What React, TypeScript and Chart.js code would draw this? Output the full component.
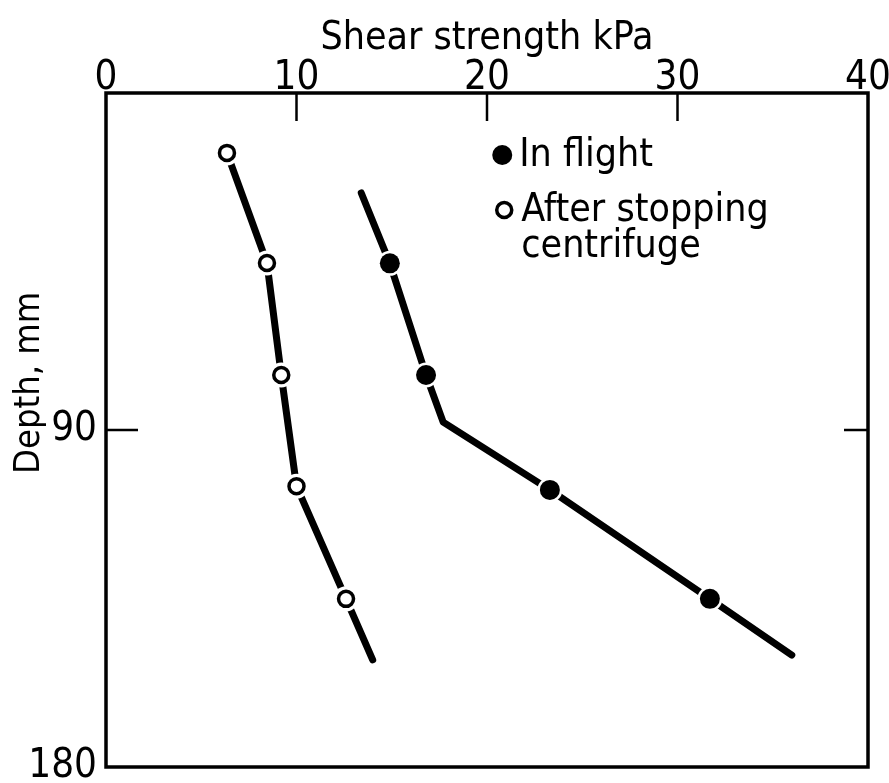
import React, { useEffect, useRef } from "react";
import { Chart, registerables } from "chart.js";
Chart.register(...registerables);

// Tick labels
const xTickValues = [0, 10, 20, 30, 40];
const yTickValues = [90, 180];
const innerXTicks = [10, 20, 30];
const innerYTicks = [90];

// In flight (filled markers) measured points
const inFlightStrength = [14.9, 16.8, 23.3, 31.7];
const inFlightDepth = [45.5, 75.3, 106, 135.1];
// In flight fitted line
const inFlightLineStrength = [13.4, 14.9, 16.8, 17.7, 23.3, 31.7, 36.0];
const inFlightLineDepth = [26.7, 45.5, 75.3, 87.9, 106, 135.1, 150.1];

// After stopping centrifuge (open markers)
const afterStrength = [6.35, 8.45, 9.2, 10.0, 12.6];
const afterDepth = [16.0, 45.4, 75.3, 105, 135.1];
// After stopping fitted line
const afterLineStrength = [6.35, 8.45, 9.2, 10.0, 12.6, 14.0];
const afterLineDepth = [16.0, 45.4, 75.3, 105, 135.1, 151.4];

const legendLabels = ["In flight", ["After stopping", "centrifuge"]];
const xTitle = "Shear strength kPa";
const yTitle = "Depth, mm";

const FONT = "'DejaVu Sans Condensed', 'DejaVu Sans', sans-serif";

const zip = (xs: number[], ys: number[]) => xs.map((x, i) => ({ x, y: ys[i] }));

export default function App() {
  const ref = useRef<HTMLCanvasElement | null>(null);
  useEffect(() => {
    if (!ref.current) return;
    const framePlugin = {
      id: "frameAndExtras",
      afterDraw(chart: any) {
        const { ctx, chartArea: a, scales } = chart;
        const xs = scales.x;
        const ys = scales.y;
        ctx.save();
        ctx.strokeStyle = "#000";
        ctx.lineWidth = 3.5;
        ctx.strokeRect(a.left, a.top, a.right - a.left, a.bottom - a.top);
        ctx.lineWidth = 2.5;
        innerXTicks.forEach((v) => {
          const px = xs.getPixelForValue(v);
          ctx.beginPath();
          ctx.moveTo(px, a.top);
          ctx.lineTo(px, a.top + 28);
          ctx.stroke();
        });
        innerYTicks.forEach((v) => {
          const py = ys.getPixelForValue(v);
          ctx.beginPath();
          ctx.moveTo(a.left, py);
          ctx.lineTo(a.left + 32, py);
          ctx.moveTo(a.right, py);
          ctx.lineTo(a.right - 24, py);
          ctx.stroke();
        });
        // y title
        ctx.fillStyle = "#000";
        ctx.font = `36px ${FONT}`;
        ctx.textAlign = "center";
        ctx.textBaseline = "middle";
        ctx.translate(30, a.top + (a.bottom - a.top) * 0.43);
        ctx.rotate(-Math.PI / 2);
        ctx.fillText(yTitle, 0, 0);
        ctx.restore();

        // legend
        ctx.save();
        const lx = a.left + (a.right - a.left) * 0.52;
        const ly = a.top + 62;
        ctx.font = `39px ${FONT}`;
        ctx.textAlign = "left";
        ctx.textBaseline = "middle";
        ctx.fillStyle = "#000";
        ctx.beginPath();
        ctx.arc(lx, ly, 10, 0, Math.PI * 2);
        ctx.fill();
        ctx.fillText(legendLabels[0] as string, lx + 17, ly + 1);
        ctx.beginPath();
        ctx.lineWidth = 3.5;
        ctx.arc(lx + 2, ly + 55, 7.5, 0, Math.PI * 2);
        ctx.fillStyle = "#fff";
        ctx.fill();
        ctx.stroke();
        ctx.fillStyle = "#000";
        const l2 = legendLabels[1] as string[];
        ctx.fillText(l2[0], lx + 19, ly + 56);
        ctx.fillText(l2[1], lx + 19, ly + 92);
        ctx.restore();
      },
    };

    const chart = new Chart(ref.current, {
      type: "scatter",
      data: {
        datasets: [
          {
            label: "In flight line",
            data: zip(inFlightLineStrength, inFlightLineDepth),
            showLine: true,
            borderColor: "#000",
            borderWidth: 7,
            pointRadius: 0,
            borderCapStyle: "round",
            borderJoinStyle: "round",
            order: 3,
          },
          {
            label: "After line",
            data: zip(afterLineStrength, afterLineDepth),
            showLine: true,
            borderColor: "#000",
            borderWidth: 7,
            pointRadius: 0,
            borderCapStyle: "round",
            borderJoinStyle: "round",
            order: 3,
          },
          {
            label: "halo",
            data: [...zip(inFlightStrength, inFlightDepth), ...zip(afterStrength, afterDepth)],
            pointRadius: 12.5,
            pointBackgroundColor: "#fff",
            pointBorderWidth: 0,
            borderColor: "#fff",
            order: 2,
          },
          {
            label: "In flight",
            data: zip(inFlightStrength, inFlightDepth),
            pointRadius: 10,
            pointBackgroundColor: "#000",
            pointBorderColor: "#000",
            pointBorderWidth: 0,
            order: 1,
          },
          {
            label: "After stopping centrifuge",
            data: zip(afterStrength, afterDepth),
            pointRadius: 7.5,
            pointBackgroundColor: "#fff",
            pointBorderColor: "#000",
            pointBorderWidth: 3.5,
            order: 1,
          },
        ],
      },
      options: {
        animation: false,
        responsive: false,
        layout: { padding: { left: 0, right: 21, top: 0, bottom: 16 } },
        plugins: { legend: { display: false }, tooltip: { enabled: false } },
        scales: {
          x: {
            type: "linear",
            position: "top",
            min: 0,
            max: 40,
            afterBuildTicks: (s: any) => {
              s.ticks = xTickValues.map((v) => ({ value: v }));
            },
            afterFit: (s: any) => {
              s.height = 93;
              s.paddingLeft = 0;
              s.paddingRight = 0;
            },
            grid: { display: false, drawTicks: false },
            border: { display: false },
            ticks: {
              color: "#000",
              padding: -10,
              font: { family: FONT, size: 40 },
            },
            title: {
              display: true,
              text: xTitle,
              color: "#000",
              font: { family: FONT, size: 39 },
              padding: { top: 15, bottom: 0 },
            },
          },
          y: {
            type: "linear",
            reverse: true,
            min: 0,
            max: 180,
            afterBuildTicks: (s: any) => {
              s.ticks = yTickValues.map((v) => ({ value: v }));
            },
            afterFit: (s: any) => {
              s.width = 106;
              s.paddingTop = 0;
              s.paddingBottom = 0;
            },
            grid: { display: false, drawTicks: false },
            border: { display: false },
            ticks: {
              color: "#000",
              padding: 9,
              font: { family: FONT, size: 40 },
            },
          },
        },
      },
      plugins: [framePlugin],
    } as any);
    return () => chart.destroy();
  }, []);
  return (
    <div style={{ position: "fixed", left: 0, top: 0, width: 889, height: 783, background: "#fff" }}>
      <canvas ref={ref} width={889} height={783} style={{ width: 889, height: 783, display: "block" }} />
    </div>
  );
}
